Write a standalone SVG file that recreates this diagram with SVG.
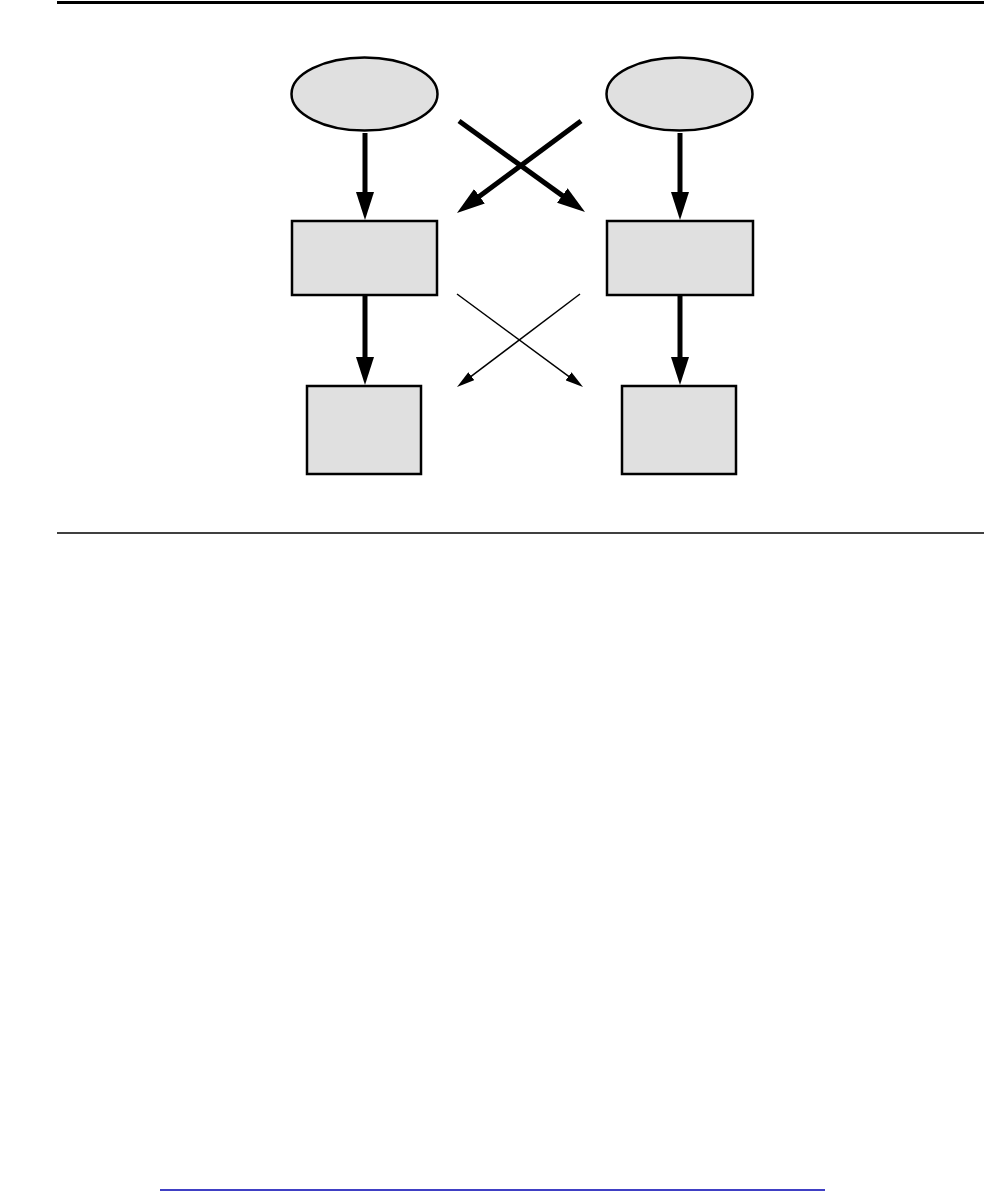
<svg xmlns="http://www.w3.org/2000/svg" width="984" height="1192" viewBox="0 0 984 1192">
<style>
.node{fill:#e0e0e0;stroke:#000;stroke-width:2.5}
.thick{stroke:#000;stroke-width:5;fill:none}
.thin{stroke:#000;stroke-width:1.5;fill:none}
.rule{stroke:#000;fill:none}
</style>
<defs>
<marker id="big" viewBox="0 0 28 18" refX="18" refY="9" markerWidth="28" markerHeight="18" orient="auto" markerUnits="userSpaceOnUse">
<path d="M0,0 L28,9 L0,18 z" fill="#000"/>
</marker>
<marker id="small" viewBox="0 0 18 10" refX="12" refY="5" markerWidth="18" markerHeight="10" orient="auto" markerUnits="userSpaceOnUse">
<path d="M0,0 L18,5 L0,10 z" fill="#000"/>
</marker>
</defs>
<rect width="984" height="1192" fill="#fff"/>
<line class="rule" x1="57" y1="2.5" x2="984" y2="2.5" stroke-width="3"/>
<line class="rule" x1="57" y1="533" x2="984" y2="533" stroke-width="1.5"/>
<line x1="160" y1="1190" x2="825" y2="1190" stroke="#0000b0" stroke-width="1.5"/>
<g id="ellipse-left"><ellipse class="node" cx="364.5" cy="94" rx="73" ry="36.5"/></g>
<g id="ellipse-right"><ellipse class="node" cx="679.5" cy="94" rx="73" ry="36.5"/></g>
<g id="rect-mid-left"><rect class="node" x="292" y="221" width="145" height="74"/></g>
<g id="rect-mid-right"><rect class="node" x="607" y="221" width="146" height="74"/></g>
<g id="rect-bot-left"><rect class="node" x="307" y="386" width="114" height="88"/></g>
<g id="rect-bot-right"><rect class="node" x="622" y="386" width="114" height="88"/></g>
<g id="connectors">
<line class="thick" x1="365" y1="133" x2="365" y2="210" marker-end="url(#big)"/>
<line class="thick" x1="680" y1="133" x2="680" y2="210" marker-end="url(#big)"/>
<line class="thick" x1="365" y1="295" x2="365" y2="375" marker-end="url(#big)"/>
<line class="thick" x1="680" y1="295" x2="680" y2="375" marker-end="url(#big)"/>
<line class="thick" x1="459" y1="121" x2="576.9" y2="206.1" marker-end="url(#big)"/>
<line class="thick" x1="581" y1="121" x2="465" y2="207" marker-end="url(#big)"/>
<line class="thin" x1="457" y1="294" x2="578.2" y2="383.4" marker-end="url(#small)"/>
<line class="thin" x1="580" y1="294" x2="461.8" y2="383.4" marker-end="url(#small)"/>
</g>
</svg>
